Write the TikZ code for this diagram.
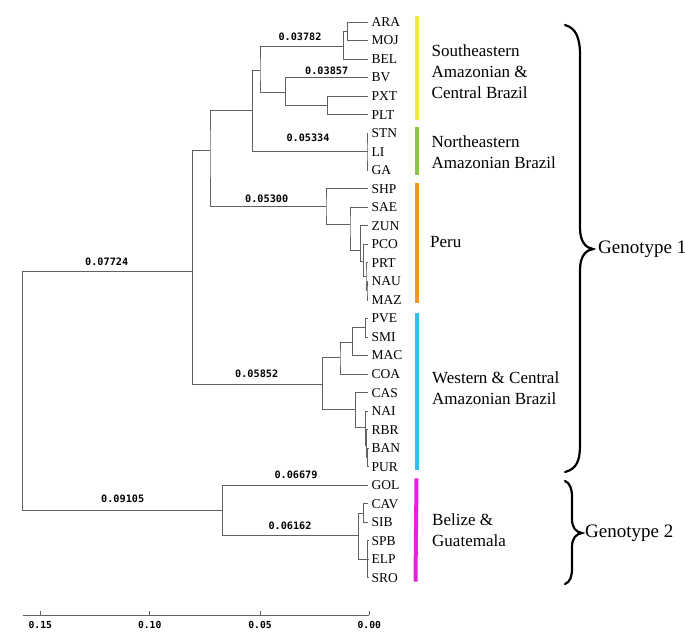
\documentclass[tikz,border=0pt]{standalone}
\usepackage{fontspec}
\setmainfont{Liberation Serif}
\newfontfamily\numfont{DejaVu Sans Mono}
\definecolor{cyel}{HTML}{F0EA40}
\definecolor{cgrn}{HTML}{8CC63E}
\definecolor{corg}{HTML}{F7941E}
\definecolor{ccyn}{HTML}{27C4F0}
\definecolor{cmag}{HTML}{E81EE0}
\begin{document}
\begin{tikzpicture}[x=1pt,y=-1pt,
 br/.style={draw=black!62, line width=0.9pt},
 leaf/.style={anchor=west, inner xsep=3.5pt, inner ysep=1pt, font=\fontsize{13.5}{16}\selectfont},
 blen/.style={font=\numfont\bfseries\fontsize{10.2}{12}\selectfont, inner sep=1pt},
 slab/.style={font=\numfont\bfseries\fontsize{9.7}{11}\selectfont, inner sep=1pt},
 grp/.style={anchor=west, align=left, font=\fontsize{17}{21}\selectfont, inner sep=0pt},
 cbar/.style={line width=4pt},
 brc/.style={line width=2.2pt, line cap=round},
 gen/.style={anchor=west, font=\fontsize{19}{22}\selectfont, inner sep=0pt}]
\useasboundingbox (0,0) rectangle (685,638);
% leaves
\node[leaf] (ARA) at (368,22.0) {ARA};
\node[leaf] (MOJ) at (368,40.5) {MOJ};
\node[leaf] (BEL) at (368,59.1) {BEL};
\node[leaf] (BV)  at (368,77.6) {BV};
\node[leaf] (PXT) at (368,96.1) {PXT};
\node[leaf] (PLT) at (368,114.7) {PLT};
\node[leaf] (STN) at (368,133.2) {STN};
\node[leaf] (LI)  at (368,151.7) {LI};
\node[leaf] (GA)  at (368,170.2) {GA};
\node[leaf] (SHP) at (368,188.8) {SHP};
\node[leaf] (SAE) at (368,207.3) {SAE};
\node[leaf] (ZUN) at (368,225.8) {ZUN};
\node[leaf] (PCO) at (368,244.4) {PCO};
\node[leaf] (PRT) at (368,262.9) {PRT};
\node[leaf] (NAU) at (368,281.4) {NAU};
\node[leaf] (MAZ) at (368,300.0) {MAZ};
\node[leaf] (PVE) at (368,318.5) {PVE};
\node[leaf] (SMI) at (368,337.0) {SMI};
\node[leaf] (MAC) at (368,355.5) {MAC};
\node[leaf] (COA) at (368,374.1) {COA};
\node[leaf] (CAS) at (368,392.6) {CAS};
\node[leaf] (NAI) at (368,411.1) {NAI};
\node[leaf] (RBR) at (368,429.7) {RBR};
\node[leaf] (BAN) at (368,448.2) {BAN};
\node[leaf] (PUR) at (368,466.7) {PUR};
\node[leaf] (GOL) at (368,485.3) {GOL};
\node[leaf] (CAV) at (368,503.8) {CAV};
\node[leaf] (SIB) at (368,522.3) {SIB};
\node[leaf] (SPB) at (368,540.8) {SPB};
\node[leaf] (ELP) at (368,559.4) {ELP};
\node[leaf] (SRO) at (368,577.9) {SRO};
% internal nodes
\coordinate (N1) at (347.7,31.3);
\coordinate (N2) at (343.3,46);
\coordinate (N3) at (327.7,105.9);
\coordinate (N4) at (285.7,92);
\coordinate (N5) at (260,70);
\coordinate (NE) at (367,151.7);
\coordinate (N6) at (252.7,110);
\coordinate (P6) at (367,290.7);
\coordinate (P5) at (366,276);
\coordinate (P4) at (363.3,261.7);
\coordinate (P3) at (360.7,250);
\coordinate (P2) at (350,224);
\coordinate (P1) at (326,206.7);
\coordinate (N7) at (210,150);
\coordinate (W1) at (365.7,327.7);
\coordinate (W2) at (352.7,342);
\coordinate (W3) at (340,357.7);
\coordinate (W7) at (367.5,457.5);
\coordinate (W6) at (366.5,445);
\coordinate (W5) at (365.5,427);
\coordinate (W4) at (355.5,409);
\coordinate (W8) at (322.3,384);
\coordinate (G1) at (192.7,271.7);
\coordinate (C1) at (363.3,513);
\coordinate (C2) at (367.5,559.4);
\coordinate (C3) at (358.3,535.3);
\coordinate (C4) at (222.7,510);
\coordinate (R)  at (22.7,390.7);
% branches
\draw[br] (ARA) -| (N1) |- (MOJ);
\draw[br] (N1) -| (N2) |- (BEL);
\draw[br] (PXT) -| (N3) |- (PLT);
\draw[br] (BV) -| (N4) |- (N3);
\draw[br] (N2) -| (N5) |- (N4);
\draw[br] (STN) -| (NE) |- (GA);
\draw[br] (NE) -- (LI);
\draw[br] (N5) -| (N6) |- (NE);
\draw[br] (NAU) -| (P6) |- (MAZ);
\draw[br] (PRT) -| (P5) |- (P6);
\draw[br] (PCO) -| (P4) |- (P5);
\draw[br] (ZUN) -| (P3) |- (P4);
\draw[br] (SAE) -| (P2) |- (P3);
\draw[br] (SHP) -| (P1) |- (P2);
\draw[br] (N6) -| (N7) |- (P1);
\draw[br] (PVE) -| (W1) |- (SMI);
\draw[br] (W1) -| (W2) |- (MAC);
\draw[br] (W2) -| (W3) |- (COA);
\draw[br] (BAN) -| (W7) |- (PUR);
\draw[br] (RBR) -| (W6) |- (W7);
\draw[br] (NAI) -| (W5) |- (W6);
\draw[br] (CAS) -| (W4) |- (W5);
\draw[br] (W3) -| (W8) |- (W4);
\draw[br] (N7) -| (G1) |- (W8);
\draw[br] (CAV) -| (C1) |- (SIB);
\draw[br] (SPB) -| (C2) |- (SRO);
\draw[br] (C2) -- (ELP);
\draw[br] (C1) -| (C3) |- (C2);
\draw[br] (GOL) -| (C4) |- (C3);
\draw[br] (G1) -| (R) |- (C4);
% branch length labels
\node[blen] (b1) at (300,36.7) {0.03782};
\node[blen] (b2) at (326.7,70.7) {0.03857};
\node[blen] (b3) at (308,137.7) {0.05334};
\node[blen] (b4) at (266.7,198.3) {0.05300};
\node[blen] (b5) at (106.7,261.7) {0.07724};
\node[blen] (b6) at (256.7,374) {0.05852};
\node[blen] (b7) at (296,475) {0.06679};
\node[blen] (b8) at (122.7,499.3) {0.09105};
\node[blen] (b9) at (290,525.7) {0.06162};
% colour bars
\draw[cbar, cyel] (416.5,16) -- (416.5,120);
\draw[cbar, cgrn] (416.5,126.7) -- (416.5,175);
\draw[cbar, corg] (416.5,183.3) -- (416.5,303);
\draw[cbar, ccyn] (416.5,313.3) -- (416.5,470);
\draw[cbar, cmag] (416.5,478.3) -- (415.5,581.7);
% group labels
\node[grp] (gSE) at (431.5,71.5) {Southeastern\\Amazonian \&\\Central Brazil};
\node[grp] (gNE) at (431.5,152.5) {Northeastern\\Amazonian Brazil};
\node[grp] (gPE) at (430,242.5) {Peru};
\node[grp] (gWC) at (432,388.5) {Western \& Central\\Amazonian Brazil};
\node[grp] (gBG) at (432,530) {Belize \&\\Guatemala};
% braces
\draw[brc] (565,25) .. controls (576,28) and (580,38) .. (580,55) -- (580,228)
  .. controls (580,242) and (586,248) .. (593,249)
  .. controls (586,250) and (580,256) .. (580,270) -- (580,445)
  .. controls (580,462) and (576,469) .. (565,472);
\draw[brc] (565,481) .. controls (570,483) and (572,489) .. (572,497) -- (572,519)
  .. controls (572,528) and (576,532) .. (582,533)
  .. controls (576,534) and (572,538) .. (572,547) -- (572,568)
  .. controls (572,577) and (570,582) .. (565,584);
\node[gen] (gen1) at (598,249) {Genotype 1};
\node[gen] (gen2) at (585,533) {Genotype 2};
% scale bar
\coordinate (sL) at (22.7,615);
\coordinate (s0) at (369.3,615);
\coordinate (t15) at (40.3,615);
\coordinate (t10) at (149.7,615);
\coordinate (t05) at (260,615);
\draw[br] (sL) -- (s0);
\draw[br] (t15) -- ++(0,-4.5);
\draw[br] (t10) -- ++(0,-4.5);
\draw[br] (t05) -- ++(0,-4.5);
\draw[br] (s0) -- ++(0,-4.5);
\node[slab] (l15) at (40.3,625) {0.15};
\node[slab] (l10) at (149.7,625) {0.10};
\node[slab] (l05) at (260,625) {0.05};
\node[slab] (l00) at (369.3,625) {0.00};
\end{tikzpicture}
\end{document}
